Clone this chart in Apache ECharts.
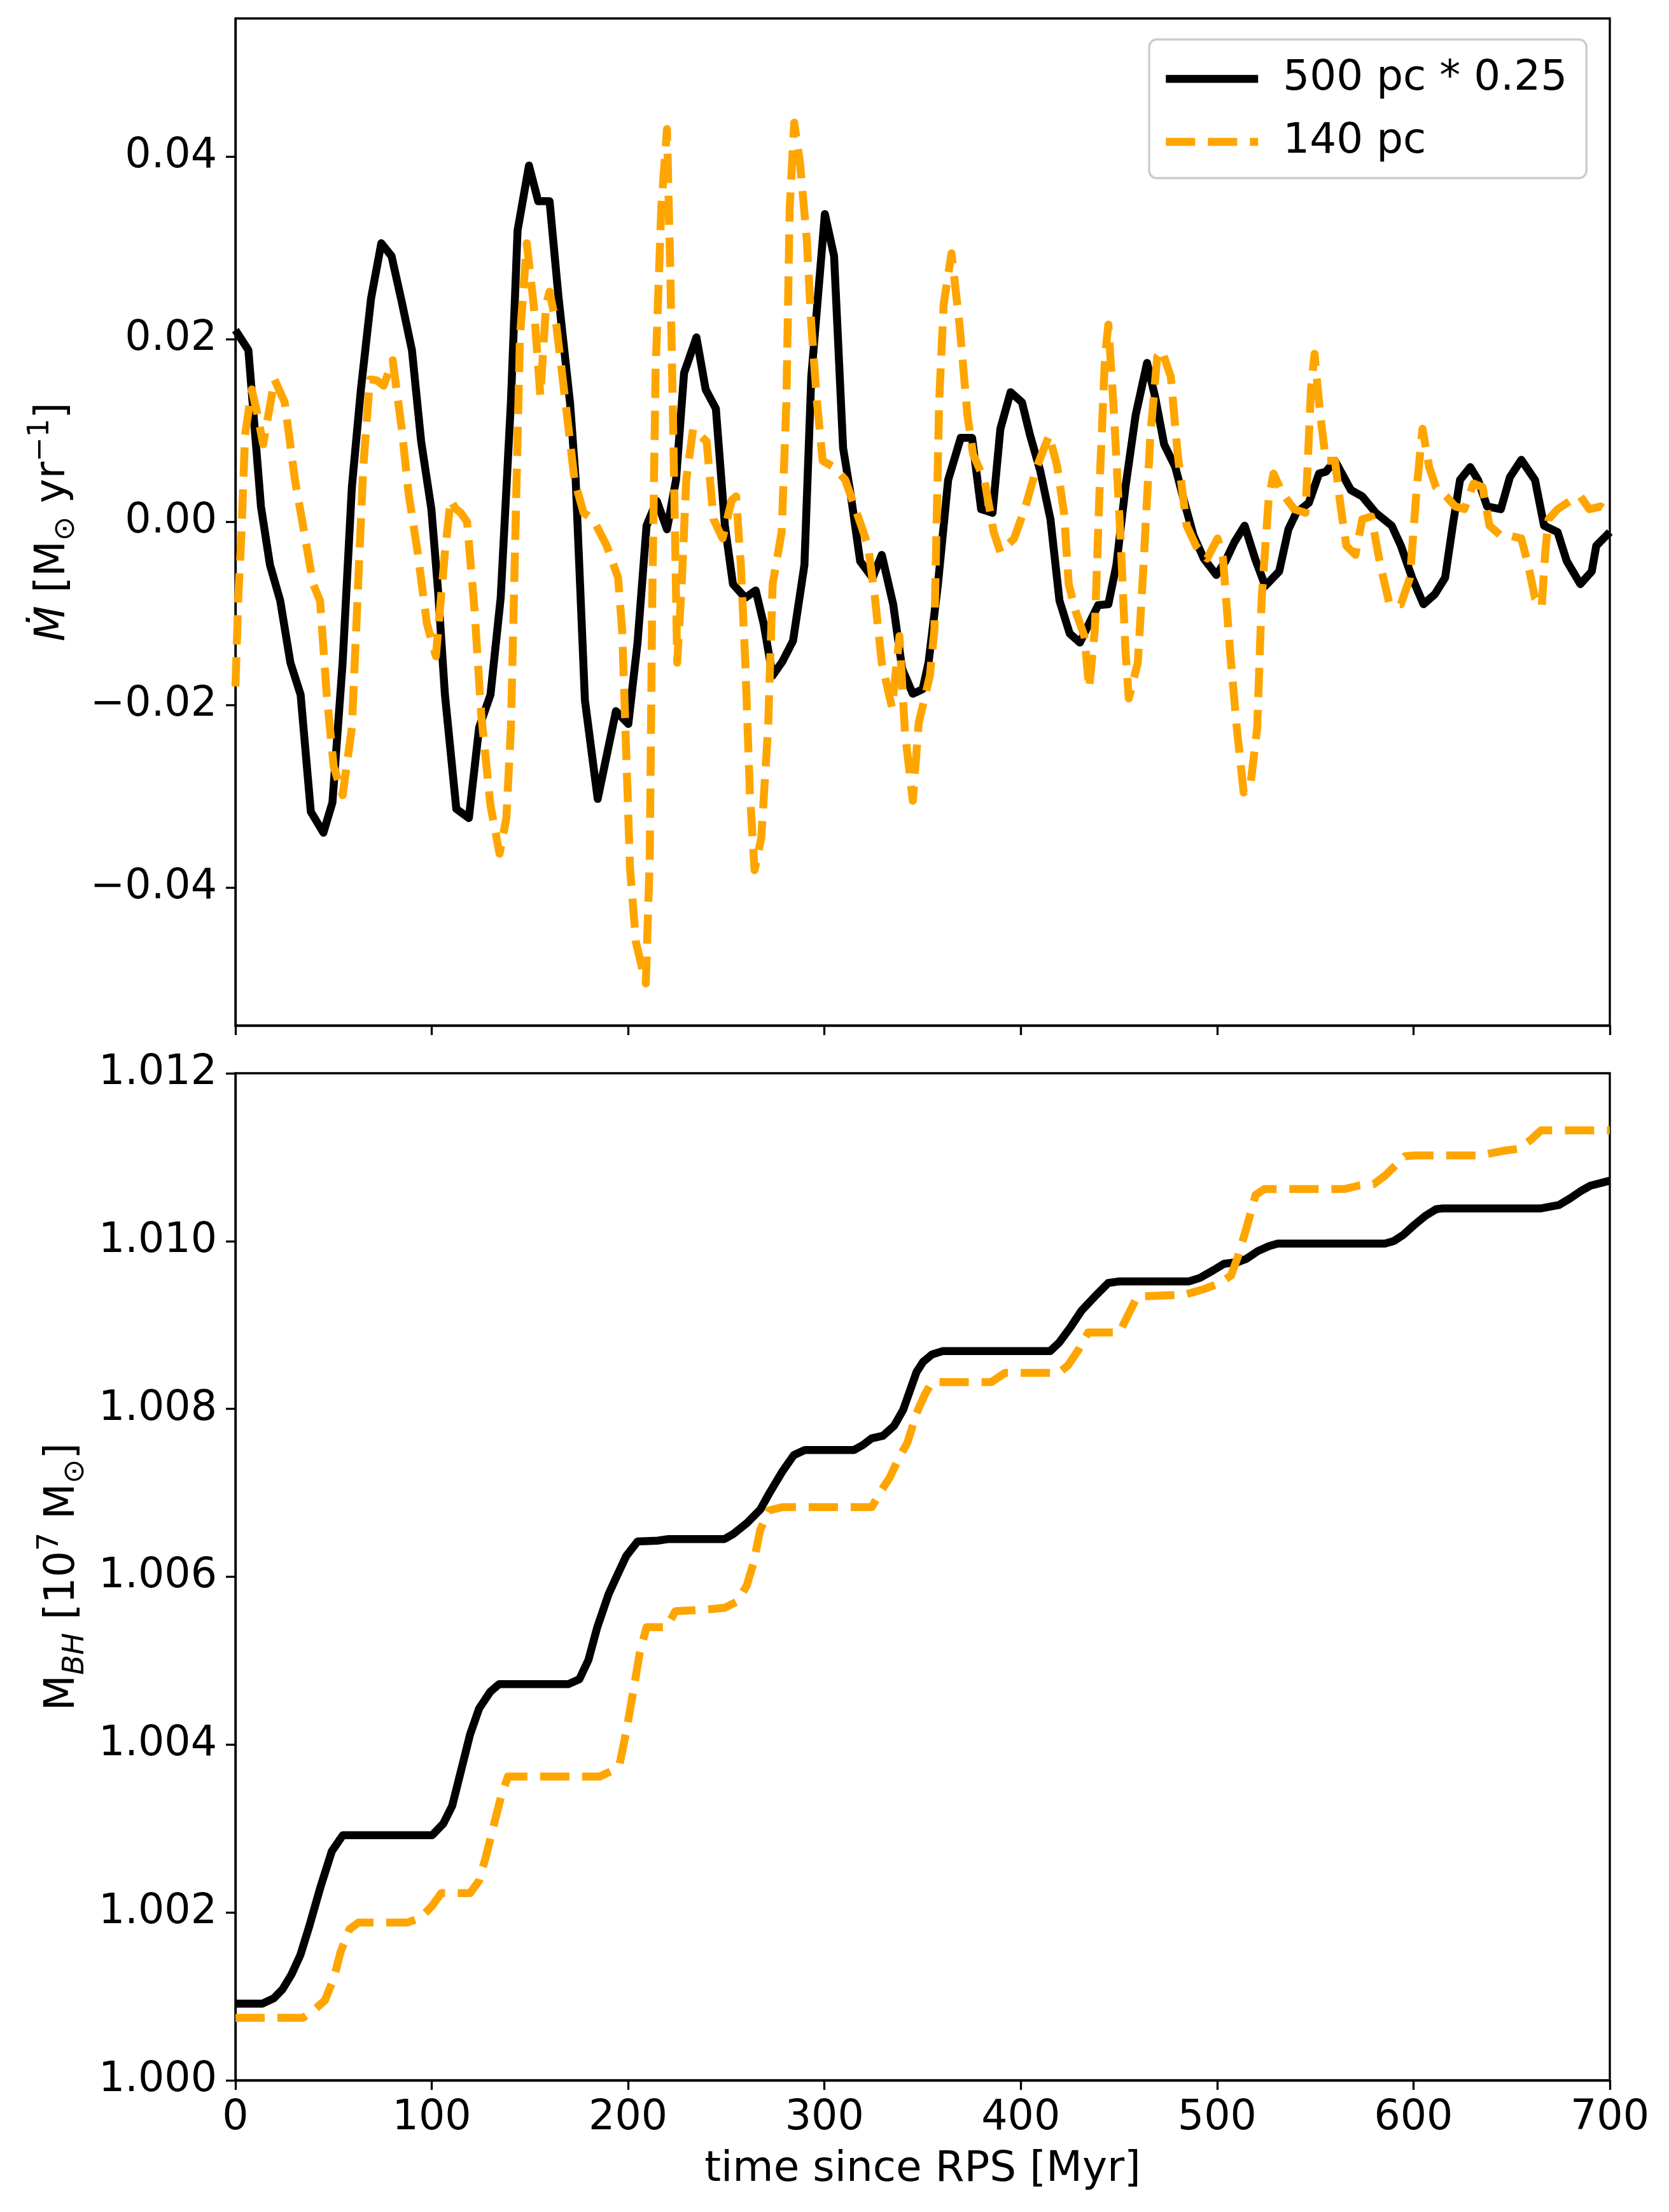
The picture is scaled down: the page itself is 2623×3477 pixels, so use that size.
<!DOCTYPE html>
<html>
<head>
<meta charset="utf-8">
<script src="https://cdn.jsdelivr.net/npm/echarts@6/dist/echarts.min.js"></script>
<style>
html,body{margin:0;padding:0;background:#fff;}
#chart{width:2623px;height:3477px;}
</style>
</head>
<body>
<div id="chart"></div>
<script>
// ---------- DATA ----------
const seriesNames = ['500 pc * 0.25', '140 pc'];
const xTicks = [0, 100, 200, 300, 400, 500, 600, 700];
const mdotTicks = [-0.04, -0.02, 0.00, 0.02, 0.04];
const mbhTicks = [1.000, 1.002, 1.004, 1.006, 1.008, 1.010, 1.012];

// top panel: accretion rate, 500 pc (scaled by 0.25)
const tMdot500 = [0,6.6,13,17.6,22.8,28,33.2,38.4,44.8,49.4,54.6,59.3,63.9,69.1,74.3,79.5,84.7,89.9,94.6,99.8,103.2,106.7,112.5,118.9,124.1,129.9,135.1,140.3,143.7,149.5,154.2,160,164.6,170.4,173.3,178,184.5,193.8,200.1,204.8,209.4,214.6,219.8,224.4,228.5,234.8,239.5,244.7,249.3,253.4,259.7,265,269,273.6,278.5,284,289.8,293.3,300.2,304.9,309.5,313.5,318.2,324.5,329.2,335,339.6,345,350,353,357.8,363,369.4,375.2,379.8,385.6,389.6,394.8,400.6,404.7,409.9,415.1,419.7,424.9,430.1,434.8,439.4,444.6,448.7,453.3,458.5,464.3,468.3,473,478.7,483.4,488,493.2,499.6,504.2,508.8,514,519.3,524.5,531.6,536.3,540.3,546.7,551.9,555.4,560,568.1,573.9,580.8,588.9,593.6,599.3,605.1,610.9,616.1,620.2,623.7,628.9,632.9,637.5,644.5,649.1,654.9,661.9,666.5,673.4,678.1,685,690.8,693.1,700];
const mdot500 = [0.0210,0.0188,0.0017,-0.0047,-0.0086,-0.0154,-0.0189,-0.0317,-0.0340,-0.0307,-0.0154,0.0038,0.0145,0.0245,0.0305,0.0291,0.0241,0.0188,0.0088,0.0014,-0.0075,-0.0189,-0.0314,-0.0324,-0.0225,-0.0189,-0.0083,0.0131,0.0319,0.0390,0.0351,0.0351,0.0245,0.0131,0.0046,-0.0195,-0.0303,-0.0207,-0.0221,-0.0132,-0.0004,0.0023,-0.0008,0.0046,0.0163,0.0202,0.0145,0.0124,-0.0004,-0.0068,-0.0083,-0.0075,-0.0111,-0.0168,-0.0153,-0.0130,-0.0047,0.0159,0.0337,0.0291,0.0081,0.0028,-0.0043,-0.0061,-0.0036,-0.0090,-0.0161,-0.0188,-0.0183,-0.0154,-0.0068,0.0046,0.0092,0.0092,0.0014,0.0010,0.0102,0.0142,0.0131,0.0095,0.0056,0.0003,-0.0086,-0.0122,-0.0132,-0.0111,-0.0091,-0.0090,-0.0047,0.0038,0.0117,0.0174,0.0138,0.0085,0.0060,0.0021,-0.0015,-0.0040,-0.0058,-0.0043,-0.0022,-0.0004,-0.0040,-0.0070,-0.0054,-0.0008,0.0010,0.0021,0.0053,0.0055,0.0067,0.0035,0.0028,0.0010,-0.0004,-0.0026,-0.0061,-0.0090,-0.0079,-0.0061,-0.0001,0.0046,0.0060,0.0046,0.0017,0.0014,0.0049,0.0068,0.0046,-0.0004,-0.0011,-0.0043,-0.0068,-0.0054,-0.0026,-0.0011];

// top panel: accretion rate, 140 pc
const tMdot140 = [0,1.5,3.1,4.9,8.3,11,14.1,17,19.9,25.1,30.3,35,39.6,43.1,46.5,50,54.6,59.3,62.2,65.1,68.5,72,75.5,80.1,84.7,88.2,92.8,97.5,102.1,106.7,109.6,112,114.8,118,121.8,125.2,129.9,134.5,138,140.3,142.6,144.9,148.4,151.9,155.3,158.2,160,163.4,168.1,172.7,177.3,182.2,189.1,194.9,197,199,201,204,209,211,212.3,214,216.9,219.8,221.5,223.3,225,227.3,229.6,233.1,240,243.5,248.1,252.8,255,257.4,259.7,262,264.4,267.8,271.3,273.6,278.2,280.6,282.3,284.6,287.5,291,293.3,296.2,299.1,304.9,310.6,317.6,322.2,325.7,329.2,334.4,338.2,341,345,348,353.7,356,358.4,360.7,364.7,368.8,372.8,375.7,381.5,386.2,389.6,396.6,402.4,408.1,414.5,418.6,422,424.4,427.8,432.4,434.8,437.7,440.5,442.9,444.6,447.5,451,453.3,455,459.6,462.5,466,469.5,471.8,476.4,479.9,484.5,489.2,494.9,500.2,503,506.5,510,513.5,516.9,520.4,522.7,526.2,528.7,533.4,539.2,545,547.8,549.6,552.5,555.4,560,562.9,565.8,570.4,573.9,578.5,583.1,587.8,593.6,598.2,601.7,604.6,608,611.5,616.7,621.3,625.9,630.6,635.2,638.7,644.5,649.1,654.9,658.4,661.9,665.3,667.1,668.8,673.4,680.4,685,689.6,695.4,700];
const mdot140 = [-0.0180,-0.0080,-0.0011,0.0095,0.0145,0.0120,0.0085,0.0120,0.0156,0.0131,0.0046,-0.0011,-0.0068,-0.0086,-0.0189,-0.0267,-0.0299,-0.0225,-0.0083,0.0060,0.0156,0.0155,0.0149,0.0177,0.0102,0.0031,-0.0033,-0.0111,-0.0147,-0.0033,0.0024,0.0015,0.0010,0.0000,-0.0097,-0.0211,-0.0310,-0.0363,-0.0324,-0.0225,-0.0011,0.0202,0.0305,0.0238,0.0138,0.0238,0.0252,0.0216,0.0131,0.0046,0.0010,0.0003,-0.0026,-0.0061,-0.0120,-0.0250,-0.0380,-0.0460,-0.0505,-0.0370,-0.0083,0.0166,0.0344,0.0430,0.0273,0.0060,-0.0154,-0.0068,0.0046,0.0102,0.0088,0.0003,-0.0018,0.0024,0.0028,-0.0047,-0.0154,-0.0296,-0.0381,-0.0346,-0.0225,-0.0068,-0.0011,0.0131,0.0344,0.0437,0.0394,0.0309,0.0216,0.0131,0.0067,0.0060,0.0046,0.0003,-0.0026,-0.0083,-0.0154,-0.0203,-0.0125,-0.0230,-0.0305,-0.0220,-0.0168,-0.0118,0.0131,0.0238,0.0294,0.0216,0.0117,0.0074,0.0046,-0.0011,-0.0033,-0.0018,0.0017,0.0060,0.0095,0.0060,0.0010,-0.0068,-0.0097,-0.0125,-0.0182,-0.0118,0.0060,0.0181,0.0216,0.0117,-0.0026,-0.0140,-0.0193,-0.0154,-0.0047,0.0095,0.0181,0.0188,0.0159,0.0074,-0.0004,-0.0026,-0.0040,-0.0018,-0.0040,-0.0139,-0.0225,-0.0296,-0.0289,-0.0225,-0.0083,0.0024,0.0053,0.0031,0.0014,0.0010,0.0145,0.0184,0.0117,0.0067,0.0067,0.0017,-0.0026,-0.0036,0.0003,0.0006,-0.0047,-0.0090,-0.0090,-0.0061,0.0038,0.0102,0.0060,0.0038,0.0028,0.0017,0.0014,0.0042,0.0038,-0.0004,-0.0015,-0.0015,-0.0018,-0.0047,-0.0083,-0.0093,-0.0033,0.0003,0.0014,0.0024,0.0028,0.0014,0.0017,0.0010];

// bottom panel: black hole mass [1e7 Msun], 500 pc
const tMbh500 = [0,13.8,19.5,24,28.6,33.1,37.7,43.4,49.1,54.7,100.2,105.9,110.4,115,119.5,124.1,129.8,134.3,169.5,175.2,179.8,184.3,190,194.5,199.1,204.8,215,220.7,249.1,253.6,260.5,267.3,271.8,278.7,284.4,290,315,319.6,324.1,329.8,335.5,340.1,346.9,350.2,354.8,360.4,415,419.5,425.2,430.9,437.7,444.5,450.2,485.5,491.1,497.9,503.6,510.5,515,520.7,526.4,530.9,585.5,590,594.6,600.3,606,611.6,615,665,674.1,679.8,685.5,690.1,700];
const mbh500 = [1.000914,1.000914,1.000977,1.001085,1.001263,1.001495,1.001843,1.002310,1.002730,1.002920,1.002920,1.003060,1.003270,1.003700,1.004120,1.004430,1.004630,1.004720,1.004720,1.004780,1.005010,1.005400,1.005790,1.006020,1.006250,1.006420,1.006430,1.006450,1.006450,1.006510,1.006640,1.006800,1.006990,1.007260,1.007450,1.007510,1.007510,1.007570,1.007650,1.007680,1.007800,1.007990,1.008440,1.008560,1.008650,1.008690,1.008690,1.008790,1.008970,1.009170,1.009340,1.009500,1.009520,1.009520,1.009560,1.009650,1.009730,1.009750,1.009790,1.009880,1.009940,1.009970,1.009970,1.010000,1.010070,1.010190,1.010300,1.010380,1.010390,1.010390,1.010430,1.010510,1.010600,1.010660,1.010720];

// bottom panel: black hole mass [1e7 Msun], 140 pc
const tMbh140 = [0,34.3,40,45.6,50.2,53.6,58.1,62.7,87.7,94.5,100.2,104.8,119.5,124.1,127.5,132,135.4,138.8,185.5,191.1,195.7,199.1,202.5,205.9,209.4,219.6,224.1,240,249.1,255.9,260.5,263.9,267.3,271.8,278.7,324.1,328.7,333.2,337.8,342.3,346.9,351.3,354.8,385,392,419.5,424.1,429.8,434.3,450.2,453.6,459.3,483.2,492.3,501.4,507.1,510.5,515,519.6,524.1,565,571.9,579.8,585.5,591.2,595.7,600.3,633.2,646.9,653.7,659.4,665,700];
const mbh140 = [1.000744,1.000744,1.000837,1.000953,1.001224,1.001533,1.001800,1.001880,1.001880,1.001940,1.002080,1.002230,1.002230,1.002380,1.002660,1.003080,1.003390,1.003620,1.003620,1.003680,1.003770,1.004160,1.004620,1.005090,1.005400,1.005400,1.005590,1.005610,1.005630,1.005710,1.005900,1.006170,1.006560,1.006790,1.006830,1.006830,1.007020,1.007180,1.007410,1.007600,1.007950,1.008180,1.008320,1.008320,1.008430,1.008430,1.008520,1.008720,1.008910,1.008910,1.009070,1.009340,1.009360,1.009420,1.009500,1.009590,1.009810,1.010160,1.010550,1.010620,1.010620,1.010660,1.010680,1.010780,1.010910,1.011010,1.011020,1.011020,1.011080,1.011100,1.011200,1.011320,1.011320];

// ---------- CHART ----------
const FONT = 'DejaVu Sans';
const FS = 65;
const zip = (a, b) => a.map((t, i) => [t, b[i]]);
const minus = s => s.replace('-', '\u2212');

const chart = echarts.init(document.getElementById('chart'), null, {renderer: 'canvas', width: 2623, height: 3477});

const axisLineStyle = {color: '#000', width: 3.3};
const tickStyle = {show: true, inside: false, length: 15, lineStyle: {color: '#000', width: 3.3}};
const nameRich = {
  it: {fontStyle: 'italic', fontSize: FS, fontFamily: FONT, color: '#000', lineHeight: 86},
  sub: {fontSize: 46, fontFamily: FONT, color: '#000', lineHeight: 46, verticalAlign: 'bottom'},
  subi: {fontSize: 46, fontStyle: 'italic', fontFamily: FONT, color: '#000', lineHeight: 46, verticalAlign: 'bottom'},
  sup: {fontSize: 46, fontFamily: FONT, color: '#000', lineHeight: 46, verticalAlign: 'top'}
};

const option = {
  animation: false,
  backgroundColor: '#fff',
  textStyle: {fontFamily: FONT},
  grid: [
    {left: 370, top: 29, width: 2160, height: 1583, show: true, borderColor: '#000', borderWidth: 3.3, backgroundColor: 'transparent'},
    {left: 370, top: 1687, width: 2160, height: 1583, show: true, borderColor: '#000', borderWidth: 3.3, backgroundColor: 'transparent'}
  ],
  legend: {
    data: seriesNames,
    orient: 'vertical',
    left: 1806, top: 62,
    padding: [29, 30, 24, 20],
    itemWidth: 145, itemHeight: 14, itemGap: 33,
    borderColor: '#cccccc', borderWidth: 3.3, borderRadius: 12,
    backgroundColor: 'rgba(255,255,255,0.8)',
    itemStyle: {opacity: 0},
    lineStyle: {width: 12.5, cap: 'butt'},
    textStyle: {fontSize: 66, fontFamily: FONT, color: '#000', padding: [0, 0, 0, 34]}
  },
  xAxis: [
    {type: 'value', gridIndex: 0, min: 0, max: 700, interval: 100,
     axisLine: {show: true, onZero: false, lineStyle: axisLineStyle}, axisTick: tickStyle,
     axisLabel: {show: false}, splitLine: {show: false}},
    {type: 'value', gridIndex: 1, min: 0, max: 700, interval: 100,
     axisLine: {show: true, onZero: false, lineStyle: axisLineStyle}, axisTick: tickStyle,
     axisLabel: {show: true, fontSize: FS, fontFamily: FONT, color: '#000', margin: 28,
                 customValues: xTicks, formatter: v => String(v)},
     splitLine: {show: false},
     name: 'time since RPS [Myr]', nameLocation: 'middle', nameGap: 108,
     nameTextStyle: {fontSize: 66, fontFamily: FONT, color: '#000'}}
  ],
  yAxis: [
    {type: 'value', gridIndex: 0, min: -0.0551, max: 0.0551,
     axisLine: {show: true, onZero: false, lineStyle: axisLineStyle},
     axisTick: Object.assign({}, tickStyle, {customValues: mdotTicks}),
     axisLabel: {show: true, fontSize: FS, fontFamily: FONT, color: '#000', margin: 29,
                 customValues: mdotTicks, formatter: v => minus(v.toFixed(2))},
     splitLine: {show: false},
     name: '{it|Ṁ} [M{sub|⊙} yr{sup|\u22121}]', nameLocation: 'middle', nameGap: 243, nameRotate: 90,
     nameTextStyle: {fontSize: FS, fontFamily: FONT, color: '#000', lineHeight: 86, rich: nameRich}},
    {type: 'value', gridIndex: 1, min: 1.000, max: 1.012,
     axisLine: {show: true, onZero: false, lineStyle: axisLineStyle},
     axisTick: Object.assign({}, tickStyle, {customValues: mbhTicks}),
     axisLabel: {show: true, fontSize: FS, fontFamily: FONT, color: '#000', margin: 29,
                 customValues: mbhTicks, formatter: v => v.toFixed(3)},
     splitLine: {show: false},
     name: 'M{subi|BH} [10{sup|7} M{sub|⊙}]', nameLocation: 'middle', nameGap: 228, nameRotate: 90,
     nameTextStyle: {fontSize: FS, fontFamily: FONT, color: '#000', lineHeight: 86, rich: nameRich}}
  ],
  series: [
    {name: seriesNames[0], type: 'line', xAxisIndex: 0, yAxisIndex: 0, data: zip(tMdot500, mdot500),
     symbol: 'none', z: 2, itemStyle: {color: '#000000'},
     lineStyle: {color: '#000000', width: 12.5, join: 'round'}},
    {name: seriesNames[1], type: 'line', xAxisIndex: 0, yAxisIndex: 0, data: zip(tMdot140, mdot140),
     symbol: 'none', z: 3, itemStyle: {color: '#FFA500'},
     lineStyle: {color: '#FFA500', width: 12.5, type: [46, 20], join: 'round'}},
    {name: seriesNames[0], type: 'line', xAxisIndex: 1, yAxisIndex: 1, data: zip(tMbh500, mbh500),
     symbol: 'none', z: 2, itemStyle: {color: '#000000'},
     lineStyle: {color: '#000000', width: 12.5, join: 'round'}},
    {name: seriesNames[1], type: 'line', xAxisIndex: 1, yAxisIndex: 1, data: zip(tMbh140, mbh140),
     symbol: 'none', z: 3, itemStyle: {color: '#FFA500'},
     lineStyle: {color: '#FFA500', width: 12.5, type: [46, 20], join: 'round'}}
  ]
};
chart.setOption(option);
</script>
</body>
</html>
